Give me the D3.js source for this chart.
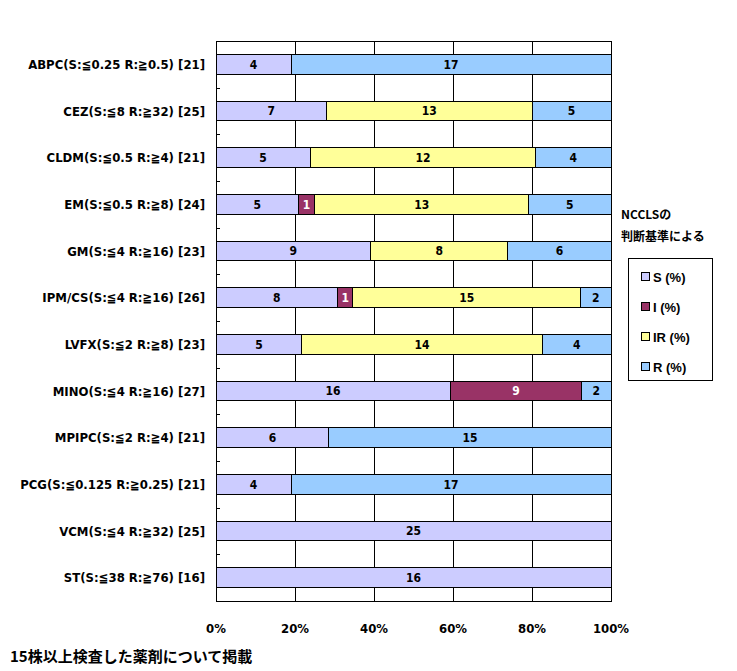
<!DOCTYPE html>
<html>
<head>
<meta charset="utf-8">
<script src="https://cdn.jsdelivr.net/npm/d3@7"></script>
<style>
  body { margin: 0; background: #fff; }
  .lbl { font-family: "Liberation Sans Narrow", "DejaVu Sans Condensed", sans-serif; font-weight: bold; font-size: 12px; }
  .big { font-size: 13px; }
</style>
</head>
<body>
<svg id="chart" width="737" height="671"></svg>
<script>
var drugs = ["ABPC(S:≦0.25 R:≧0.5) [21]", "CEZ(S:≦8 R:≧32) [25]", "CLDM(S:≦0.5 R:≧4) [21]",
  "EM(S:≦0.5 R:≧8) [24]", "GM(S:≦4 R:≧16) [23]", "IPM/CS(S:≦4 R:≧16) [26]",
  "LVFX(S:≦2 R:≧8) [23]", "MINO(S:≦4 R:≧16) [27]", "MPIPC(S:≦2 R:≧4) [21]",
  "PCG(S:≦0.125 R:≧0.25) [21]", "VCM(S:≦4 R:≧32) [25]", "ST(S:≦38 R:≧76) [16]"];
var sVals  = [4, 7, 5, 5, 9, 8, 5, 16, 6, 4, 25, 16];
var iVals  = [0, 0, 0, 1, 0, 1, 0, 9, 0, 0, 0, 0];
var irVals = [0, 13, 12, 13, 8, 15, 14, 0, 0, 0, 0, 0];
var rVals  = [17, 5, 4, 5, 6, 2, 4, 2, 15, 17, 0, 0];
var seriesKeys = ["S (%)", "I (%)", "IR (%)", "R (%)"];
var seriesColors = ["#CCCCFF", "#993366", "#FFFF99", "#99CCFF"];
var xTicks = [0, 0.2, 0.4, 0.6, 0.8, 1];

var svg = d3.select("#chart");
var plotL = 216, plotR = 611, plotT = 41, plotB = 601;

var rows = drugs.map(function(d, i) {
  return {name: d, "S (%)": sVals[i], "I (%)": iVals[i], "IR (%)": irVals[i], "R (%)": rVals[i]};
});

var x = d3.scaleLinear().domain([0, 1]).range([plotL, plotR]);
var y = d3.scaleBand().domain(drugs).range([plotT, plotB]).paddingInner(0.58).paddingOuter(0.29);
var color = d3.scaleOrdinal().domain(seriesKeys).range(seriesColors);

var stacked = d3.stack().keys(seriesKeys).offset(d3.stackOffsetExpand)(rows);

// grid lines
svg.append("g").selectAll("line")
  .data(xTicks.slice(1, -1))
  .enter()
  .append("line")
  .attr("x1", function(d) { return Math.round(x(d)) + 0.5; })
  .attr("x2", function(d) { return Math.round(x(d)) + 0.5; })
  .attr("y1", plotT).attr("y2", plotB)
  .style("stroke", "#000");

// little ticks on the category axis
var step = y.step();
svg.append("g").selectAll("line")
  .data(d3.range(1, drugs.length))
  .enter()
  .append("line")
  .attr("x1", plotL).attr("x2", plotL + 4)
  .attr("y1", function(d) { return Math.round(plotT + d * step) + 0.5; })
  .attr("y2", function(d) { return Math.round(plotT + d * step) + 0.5; })
  .style("stroke", "#000");

// bars
var layer = svg.append("g").selectAll("g")
  .data(stacked)
  .enter()
  .append("g")
  .attr("fill", function(d) { return color(d.key); });

layer.selectAll("rect")
  .data(function(d) { return d.filter(function(p) { return p[1] - p[0] > 0; }); })
  .enter()
  .append("rect")
  .attr("x", function(d) { return x(d[0]); })
  .attr("width", function(d) { return x(d[1]) - x(d[0]); })
  .attr("y", function(d) { return y(d.data.name); })
  .attr("height", y.bandwidth())
  .style("stroke", "#000")
  .style("stroke-width", 1)
  .style("shape-rendering", "crispEdges");

// value labels
stacked.forEach(function(s) {
  svg.append("g").selectAll("text")
    .data(s.filter(function(p) { return p[1] - p[0] > 0; }))
    .enter()
    .append("text")
    .attr("class", "lbl")
    .attr("x", function(d) { return (x(d[0]) + x(d[1])) / 2; })
    .attr("y", function(d) { return y(d.data.name) + y.bandwidth() / 2; })
    .attr("dy", "0.36em")
    .attr("text-anchor", "middle")
    .attr("fill", s.key == "I (%)" ? "#fff" : "#000")
    .text(function(d) { return d.data[s.key]; });
});

// plot border
svg.append("rect")
  .attr("x", plotL).attr("y", plotT)
  .attr("width", plotR - plotL).attr("height", plotB - plotT)
  .attr("fill", "none")
  .style("stroke", "#000")
  .style("shape-rendering", "crispEdges");

// category labels
svg.append("g").selectAll("text")
  .data(drugs)
  .enter()
  .append("text")
  .attr("class", "lbl big")
  .attr("x", 205)
  .attr("y", function(d) { return y(d) + y.bandwidth() / 2; })
  .attr("dy", "0.36em")
  .attr("text-anchor", "end")
  .text(function(d) { return d; });

// x tick labels
svg.append("g").selectAll("text")
  .data(xTicks)
  .enter()
  .append("text")
  .attr("class", "lbl big")
  .attr("x", function(d) { return x(d); })
  .attr("y", 633)
  .attr("text-anchor", "middle")
  .text(function(d) { return d3.format(".0%")(d); });

// legend
svg.append("text").attr("x", 621).attr("y", 219)
  .style("font-family", "'Noto Sans CJK JP', sans-serif").style("font-weight", "bold").style("font-size", "12px")
  .text("NCCLSの");
svg.append("text").attr("x", 621).attr("y", 241)
  .style("font-family", "'Noto Sans CJK JP', sans-serif").style("font-weight", "bold").style("font-size", "12px")
  .text("判断基準による");

svg.append("rect")
  .attr("x", 628.5).attr("y", 258.5).attr("width", 84).attr("height", 122)
  .attr("fill", "#fff").style("stroke", "#000");

var legend = svg.append("g").selectAll("g")
  .data(seriesKeys)
  .enter()
  .append("g")
  .attr("transform", function(d, i) { return "translate(641," + (277 + i * 30) + ")"; });

legend.append("rect")
  .attr("x", 0.5).attr("y", -4.5).attr("width", 8).attr("height", 8)
  .attr("fill", function(d) { return color(d); })
  .style("stroke", "#000");

legend.append("text")
  .attr("x", 12).attr("y", 0).attr("dy", "0.36em")
  .style("font-family", "'Liberation Sans', Arial, sans-serif")
  .style("font-weight", "bold")
  .style("font-size", "13px")
  .text(function(d) { return d; });

// footnote
svg.append("text").attr("x", 10).attr("y", 662)
  .style("font-family", "'Noto Sans CJK JP', sans-serif").style("font-weight", "bold").style("font-size", "15px")
  .text("15株以上検査した薬剤について掲載");
</script>
</body>
</html>
